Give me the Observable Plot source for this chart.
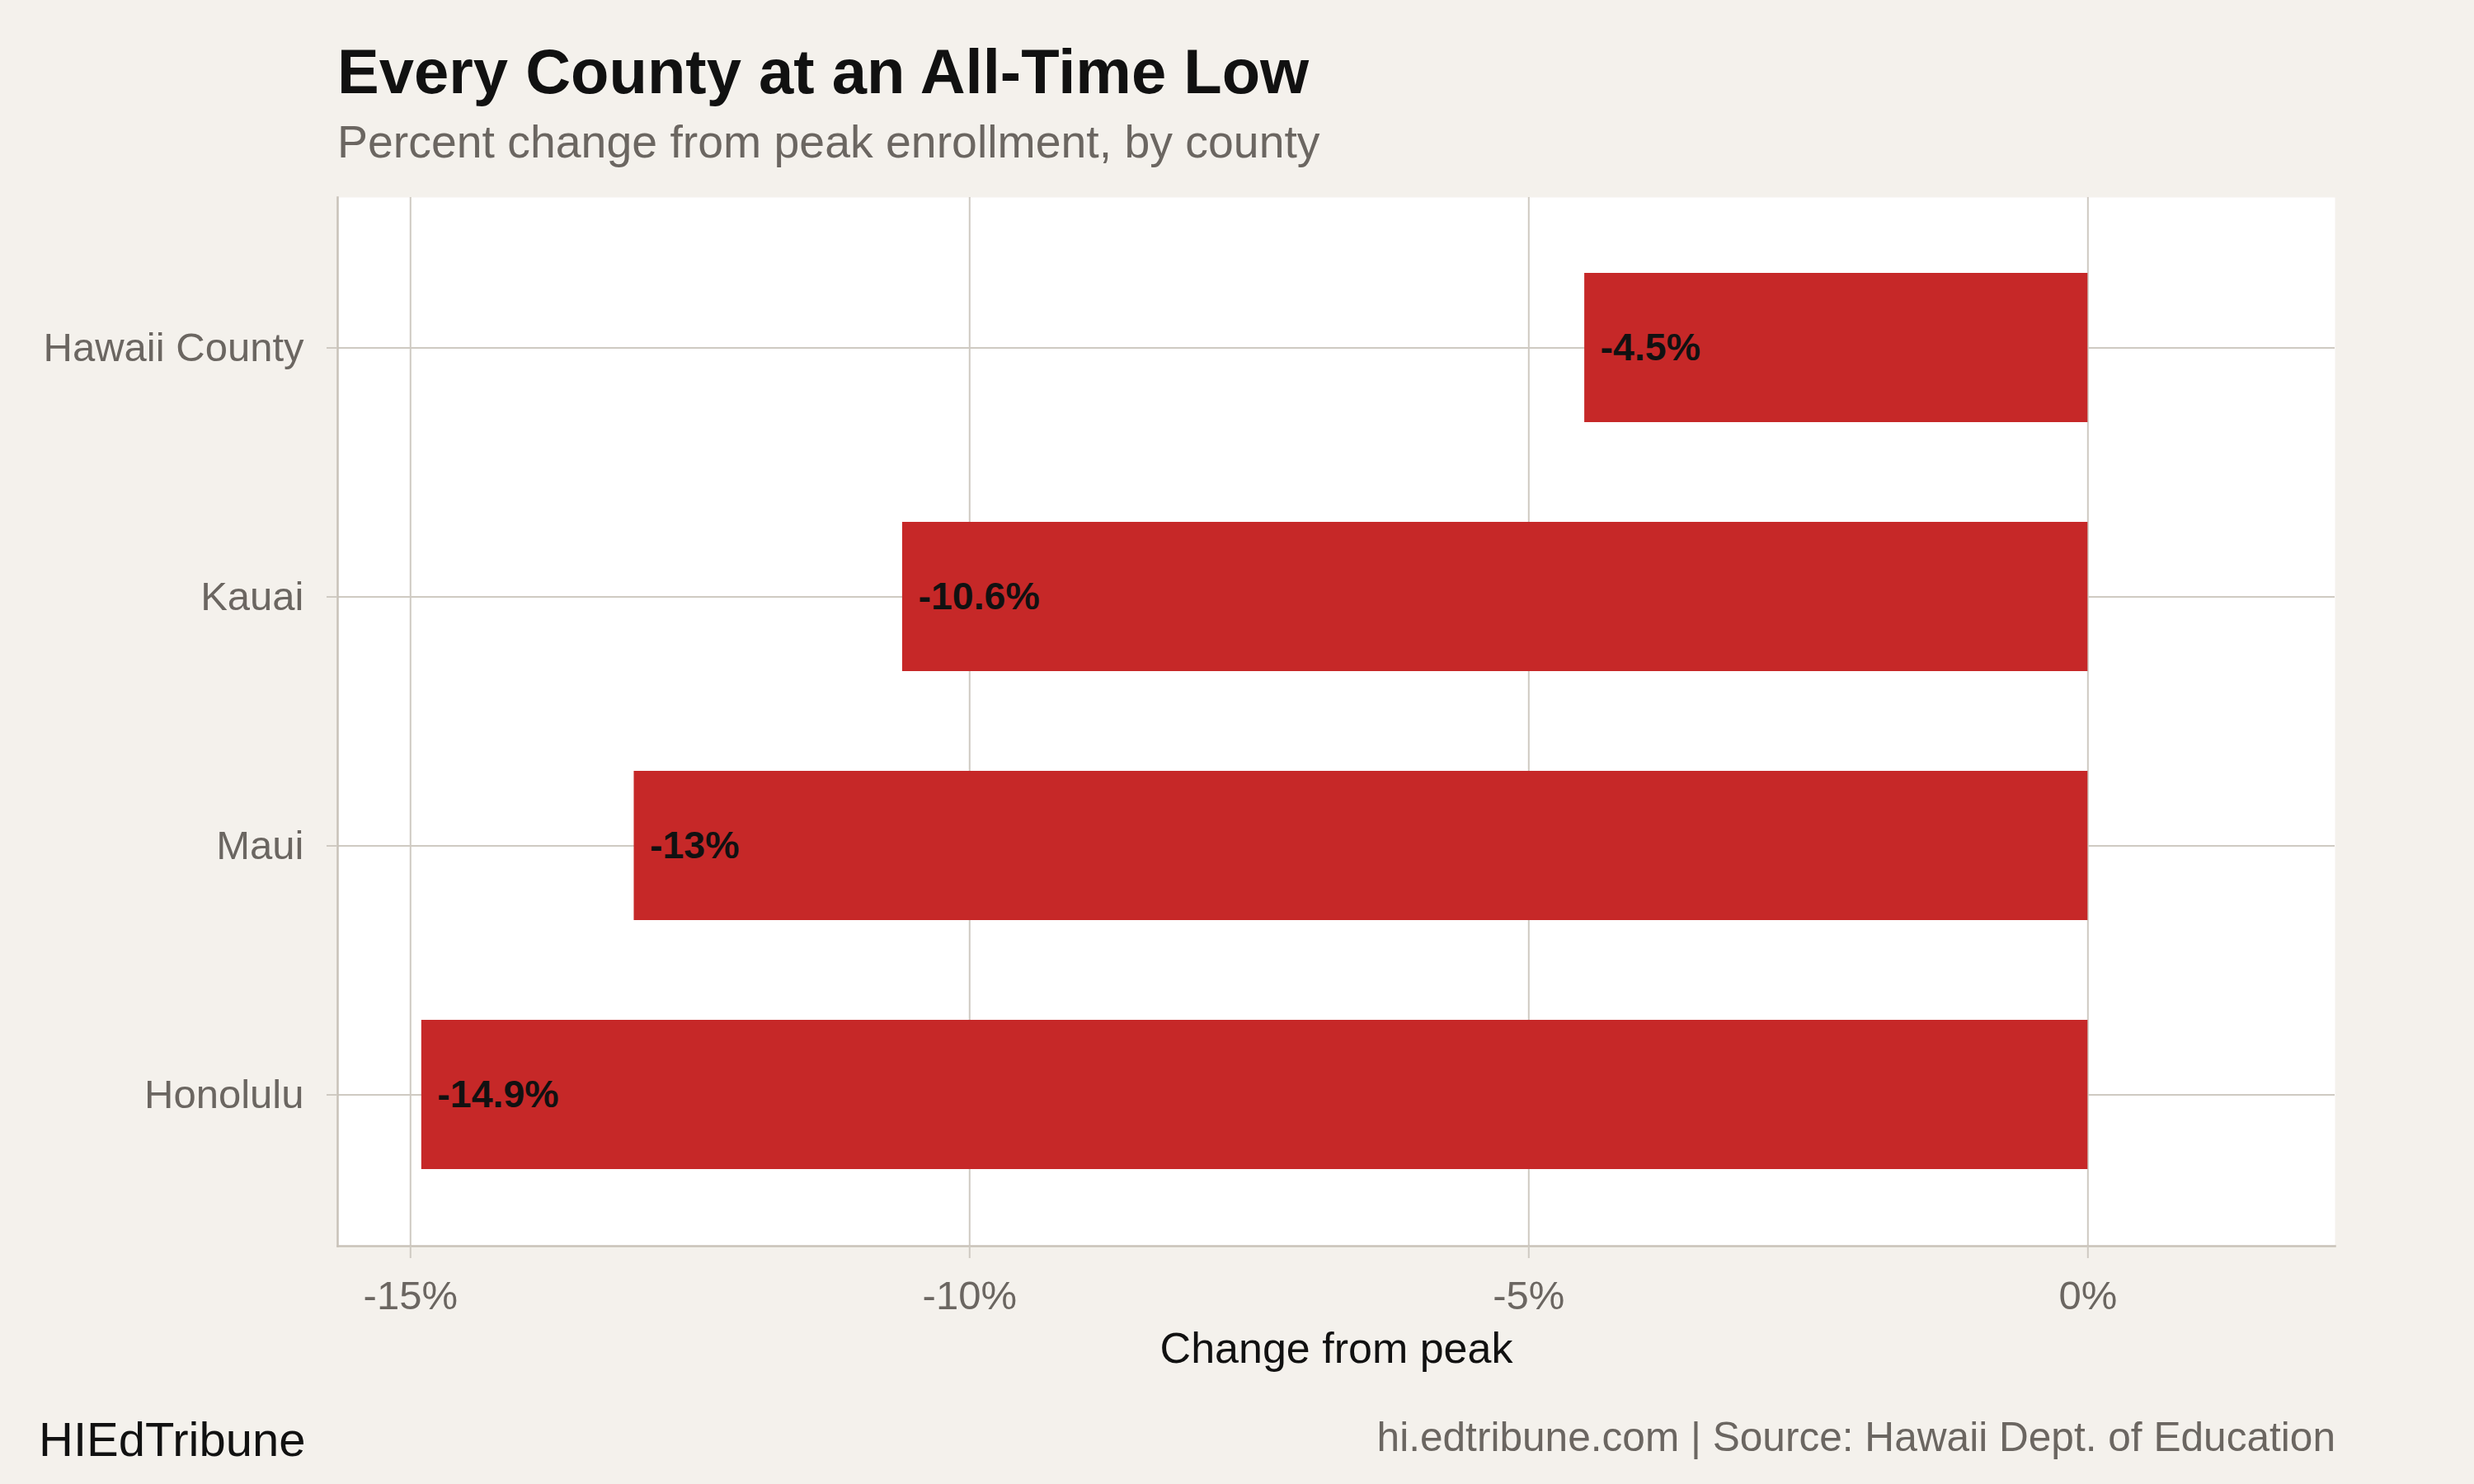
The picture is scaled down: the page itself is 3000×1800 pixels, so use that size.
<!DOCTYPE html>
<html>
<head>
<meta charset="utf-8">
<script src="https://cdn.jsdelivr.net/npm/d3@7"></script>
<script src="https://cdn.jsdelivr.net/npm/@observablehq/plot@0.6"></script>
<style>
html, body { margin: 0; padding: 0; background: #f4f1ec; }
#page { position: relative; width: 3000px; height: 1800px; background: #f4f1ec; font-family: "Liberation Sans", Arial, sans-serif; overflow: hidden; }
.t { position: absolute; white-space: nowrap; line-height: 1; }
#title { left: 409px; top: 49px; font-size: 76px; font-weight: bold; color: #111; }
#subtitle { left: 409px; top: 145px; font-size: 55.4px; color: #6b6661; }
#chart { position: absolute; left: 0; top: 220px; }
#brand { left: 47px; top: 1717px; font-size: 58px; color: #111; }
#source { right: 168px; top: 1719px; font-size: 49.6px; color: #6b6661; }
</style>
</head>
<body>
<div id="page">
  <div class="t" id="title">Every County at an All-Time Low</div>
  <div class="t" id="subtitle">Percent change from peak enrollment, by county</div>
  <div id="chart"></div>
  <div class="t" id="brand">HIEdTribune</div>
  <div class="t" id="source">hi.edtribune.com | Source: Hawaii Dept. of Education</div>
</div>
<script>
const counties = ["Hawaii County", "Kauai", "Maui", "Honolulu"];
const changes = [-4.5, -10.6, -13, -14.9];
const xTicks = [-15, -10, -5, 0];
const axisTitle = "Change from peak";

const data = counties.map((c, i) => ({county: c, change: changes[i]}));

const gridColor = "#cfcac2";
const axisColor = "#c9c2b9";
const greyText = "#6b6661";

const chart = Plot.plot({
  width: 3000,
  height: 1480,
  marginLeft: 409,
  marginRight: 169,
  marginTop: 19,
  marginBottom: 189,
  style: {background: "transparent", fontFamily: "Liberation Sans, Arial, sans-serif"},
  x: {domain: [-15.651, 2.21], ticks: xTicks},
  y: {domain: counties, paddingInner: 0.4, paddingOuter: 0.3},
  marks: [
    Plot.frame({fill: "white", stroke: "none"}),
    Plot.gridX(xTicks, {stroke: gridColor, strokeOpacity: 1, strokeWidth: 2}),
    Plot.gridY({stroke: gridColor, strokeOpacity: 1, strokeWidth: 2}),
    Plot.barX(data, {x1: 0, x2: "change", y: "county", fill: "#c62828"}),
    Plot.text(data, {x: "change", y: "county", text: d => `${d.change}%`, textAnchor: "start", dx: 19, fontSize: 46.5, fontWeight: "bold", fill: "#111"}),
    Plot.frame({anchor: "left", stroke: axisColor, strokeWidth: 2.5}),
    Plot.frame({anchor: "bottom", stroke: axisColor, strokeWidth: 2.5}),
    Plot.axisX(xTicks, {tickSize: 15, tickPadding: 27, tickFormat: d => `${d}%`, fontSize: 49, fill: greyText, stroke: gridColor, strokeWidth: 2, label: null}),
    Plot.axisY({tickSize: 13, tickPadding: 28, fontSize: 49, fill: greyText, stroke: gridColor, strokeWidth: 2, label: null}),
    Plot.text([axisTitle], {frameAnchor: "bottom", dy: 141, lineAnchor: "bottom", fontSize: 52, fill: "#111"})
  ]
});
document.getElementById("chart").appendChild(chart);
</script>
</body>
</html>
